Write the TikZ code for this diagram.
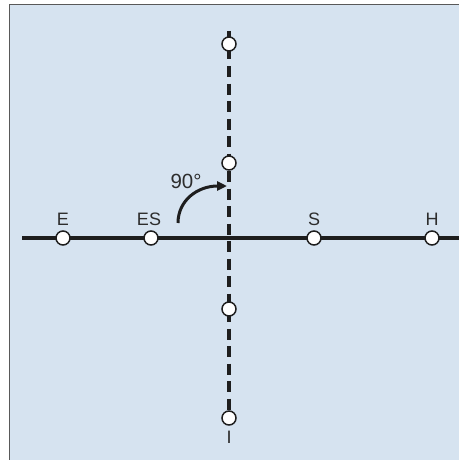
\documentclass[tikz,border=0pt]{standalone}
\usepackage{fontspec}
\setmainfont{Liberation Sans}
\usetikzlibrary{arrows.meta}
\definecolor{bgblue}{RGB}{214,227,240}
\definecolor{ink}{RGB}{30,30,30}
\definecolor{txt}{RGB}{45,45,45}
\begin{document}
\begin{tikzpicture}[x=1pt,y=-1pt,
  pt/.style={circle,draw=ink,fill=white,line width=1.5pt,inner sep=0pt,minimum size=14pt},
  lbl/.style={text=txt,font=\fontsize{18}{18}\selectfont,inner sep=0pt,anchor=base},
  axis/.style={draw=ink,line width=3.2pt},
  daxis/.style={draw=ink,line width=3.2pt,dash pattern=on 11pt off 6.5pt}]
\useasboundingbox (0,0) rectangle (459,460);
\fill[bgblue] (9.5,4.5) rectangle (459,460);
\draw[gray!70!black,line width=1.6pt] (9.5,460) -- (9.5,4.5) -- (459,4.5);
% axes
\coordinate (hl) at (22,238);
\coordinate (hr) at (459,238);
\coordinate (vt) at (229,31);
\coordinate (vb) at (229,418);
\draw[axis] (hl) -- (hr);
\draw[daxis] (vt) -- (vb);
% points
\node[pt] (E) at (63,238) {};
\node[pt] (ES) at (151,238) {};
\node[pt] (S) at (314,238) {};
\node[pt] (H) at (432,238) {};
\node[pt] (V1) at (229,44) {};
\node[pt] (V2) at (229,163) {};
\node[pt] (V3) at (229,309) {};
\node[pt] (V4) at (229,418) {};
% labels
\node[lbl] (tE) at (63,225) {E};
\node[lbl] (tES) at (149,225) {ES};
\node[lbl] (tS) at (314,225) {S};
\node[lbl] (tH) at (432,225) {H};
\node[lbl] (tI) at (229,443) {I};
\node[lbl,font=\fontsize{20.5}{20.5}\selectfont] (t90) at (186,188) {90°};
% arrow
\coordinate (a0) at (178,223);
\coordinate (a1) at (227,186);
\draw[ink,line width=3pt,-{Triangle[length=10pt,width=9pt]}] (a0) .. controls (178,200) and (198,186) .. (a1);
\end{tikzpicture}
\end{document}
